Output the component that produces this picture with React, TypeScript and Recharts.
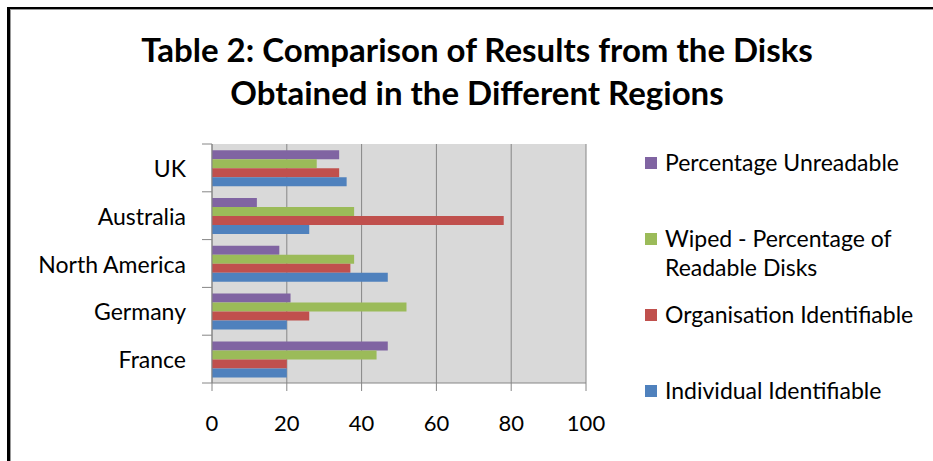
import React from "react";
import {
  BarChart,
  Bar,
  XAxis,
  YAxis,
  CartesianGrid,
  Legend,
} from "recharts";

const regions = ["UK", "Australia", "North America", "Germany", "France"];
const individualIdentifiable = [36, 26, 47, 20, 20];
const organisationIdentifiable = [34, 78, 37, 26, 20];
const wipedReadable = [28, 38, 38, 52, 44];
const percentageUnreadable = [34, 12, 18, 21, 47];
const xTicks = [0, 20, 40, 60, 80, 100];

const FONT = "Lato, 'Open Sans', sans-serif";
const GRID = "#868686";

const seriesList = [
  { key: "unreadable", name: "Percentage Unreadable", color: "#8064A2" },
  { key: "wiped", name: "Wiped - Percentage of Readable Disks", color: "#9BBB59" },
  { key: "organisation", name: "Organisation Identifiable", color: "#C0504D" },
  { key: "individual", name: "Individual Identifiable", color: "#4F81BD" },
];

const data = regions.map((region, i) => ({
  region,
  unreadable: percentageUnreadable[i],
  wiped: wipedReadable[i],
  organisation: organisationIdentifiable[i],
  individual: individualIdentifiable[i],
}));

const TICK_SIZE = 10;
const TICK_MARGIN = 16;

// category ticks in Excel sit on the band edges, labels in the middle
function RegionTick(props: any) {
  const { x, y, payload, index, visibleTicksCount } = props;
  const half = payload?.offset ?? 23.8;
  const lx1 = x + TICK_MARGIN;
  const lx2 = x + TICK_MARGIN + TICK_SIZE;
  return (
    <g>
      <line x1={lx1} x2={lx2} y1={y - half} y2={y - half} stroke={GRID} />
      {index === visibleTicksCount - 1 && (
        <line x1={lx1} x2={lx2} y1={y + half} y2={y + half} stroke={GRID} />
      )}
      <text
        x={x}
        y={y}
        textAnchor="end"
        dominantBaseline="central"
        fontFamily={FONT}
        fontSize={23}
        fill="#000"
      >
        {payload.value}
      </text>
    </g>
  );
}

function LegendBox() {
  const lines: Record<string, string[]> = {
    "Wiped - Percentage of Readable Disks": ["Wiped - Percentage of", "Readable Disks"],
  };
  return (
    <div style={{ fontFamily: FONT, fontSize: 23, color: "#000" }}>
      {seriesList.map((s) => (
        <div key={s.key} style={{ height: 76, display: "flex", alignItems: "flex-start" }}>
          <div
            style={{
              width: 12,
              height: 12,
              background: s.color,
              marginTop: 7,
              marginRight: 8,
              flex: "none",
            }}
          />
          <div style={{ lineHeight: "29px", marginTop: -2, whiteSpace: "nowrap" }}>
            {(lines[s.name] ?? [s.name]).map((t) => (
              <div key={t}>{t}</div>
            ))}
          </div>
        </div>
      ))}
    </div>
  );
}

export default function App() {
  return (
    <div
      style={{
        position: "absolute",
        left: 0,
        top: 0,
        width: 933,
        height: 461,
        overflow: "hidden",
        background: "#fff",
      }}
    >
      <div
        style={{
          position: "absolute",
          left: 7,
          top: 7,
          width: 960,
          height: 480,
          borderLeft: "3px solid #000",
          borderTop: "2px solid #000",
        }}
      >
        <div
          style={{
            width: "100%",
            height: "100%",
            borderLeft: "1px solid #999",
            borderTop: "1px solid #999",
          }}
        />
      </div>
      <div
        style={{
          position: "absolute",
          left: 0,
          width: 954,
          top: 28,
          textAlign: "center",
          fontFamily: FONT,
          fontWeight: 700,
          fontSize: 33,
          lineHeight: "43px",
          color: "#000",
        }}
      >
        <div>Table 2: Comparison of Results from the Disks</div>
        <div>Obtained in the Different Regions</div>
      </div>
      <div style={{ position: "absolute", left: 0, top: 0 }}>
        <BarChart
          width={933}
          height={461}
          data={data}
          layout="vertical"
          margin={{ top: 144, right: 347, bottom: 28, left: 0 }}
          barCategoryGap="13%"
          barGap={0}
        >
          <CartesianGrid
            horizontal={false}
            stroke={GRID}
            fill="#D9D9D9"
            fillOpacity={1}
          />
          <XAxis
            type="number"
            domain={[0, 100]}
            ticks={xTicks}
            interval={0}
            height={50}
            tickSize={8}
            tickMargin={24}
            axisLine={{ stroke: GRID }}
            tickLine={{ stroke: GRID }}
            tick={{ fontFamily: FONT, fontSize: 22, fill: "#000" }}
          />
          <YAxis
            type="category"
            dataKey="region"
            width={212}
            tickSize={TICK_SIZE}
            tickMargin={TICK_MARGIN}
            axisLine={{ stroke: GRID }}
            tickLine={{ stroke: "none" }}
            tick={<RegionTick />}
            interval={0}
          />
          <Legend
            layout="vertical"
            align="center"
            verticalAlign="middle"
            content={<LegendBox />}
            wrapperStyle={{ position: "absolute", left: 645, top: 150, width: 290, height: 310 }}
          />
          {seriesList.map((s) => (
            <Bar
              key={s.key}
              dataKey={s.key}
              name={s.name}
              fill={s.color}
              isAnimationActive={false}
            />
          ))}
        </BarChart>
      </div>
    </div>
  );
}
